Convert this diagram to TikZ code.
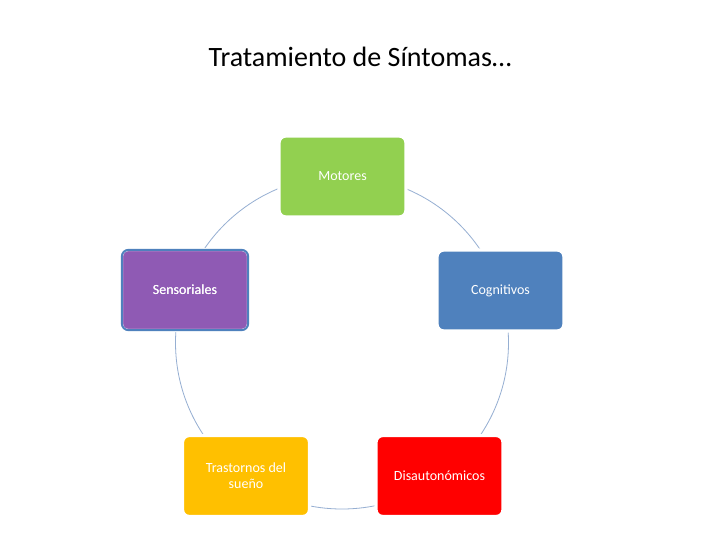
\documentclass[tikz,border=0pt]{standalone}
\usepackage{fontspec}
\setmainfont{Carlito}
\begin{document}
\begin{tikzpicture}[x=0.75pt,y=-0.75pt,
  box/.style={rounded corners=5pt,draw=white,line width=2.5pt,minimum width=127*0.75pt,minimum height=81*0.75pt,text=white,font=\fontsize{10.5}{12}\selectfont,align=center,inner sep=2pt}]
\useasboundingbox[fill=white] (0,0) rectangle (720,540);
\node (title) at (360,57) {\fontsize{21}{25}\selectfont Tratamiento de Síntomas…};
\node[circle,draw=none,minimum size=333*0.75pt] (ring) at (342,342.5) {};
\draw[color={rgb,255:red,150;green,175;blue,210},line width=0.6pt] (ring.center) circle[radius=166.5*0.75pt];
\node[box,fill={rgb,255:red,146;green,208;blue,80}] (mot) at (342.5,176.5) {Motores};
\node[box,fill={rgb,255:red,79;green,129;blue,189}] (cog) at (500.5,290.5) {Cognitivos};
\node[box,fill={rgb,255:red,255;green,0;blue,0}] (dis) at (439.5,476) {Disautonómicos};
\node[box,fill={rgb,255:red,255;green,192;blue,0}] (tra) at (246,476) {Trastornos del\\sueño};
\node[box,fill={rgb,255:red,143;green,90;blue,180}] (sen) at (185,290) {Sensoriales};
\draw[rounded corners=5pt,draw={rgb,255:red,79;green,129;blue,189},line width=1.5pt] ([shift={(2,-2)}]sen.south west) rectangle ([shift={(-2,2)}]sen.north east);
\node[text=white,font=\fontsize{10.5}{12}\selectfont] at (sen) {Sensoriales};
\end{tikzpicture}
\end{document}
